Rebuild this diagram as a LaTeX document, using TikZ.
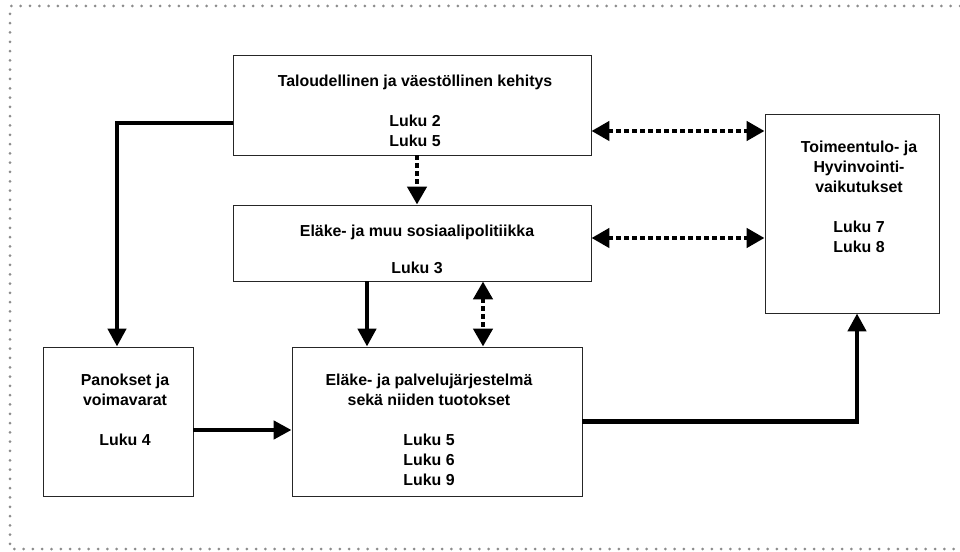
\documentclass[tikz,border=0pt]{standalone}
\usepackage{fontspec}
\setmainfont{Liberation Sans}
\usetikzlibrary{arrows.meta}
\begin{document}
\begin{tikzpicture}[x=1pt, y=1pt,
    box/.style={draw=black!85, line width=0.9pt, inner sep=0pt},
    txt/.style={align=center, font=\fontsize{15.9}{20}\selectfont\bfseries, inner sep=0pt},
    solidarrow/.style={line width=4.5pt, -{Triangle[length=18pt, width=18pt]}},
    dotarrow/.style={line width=4.5pt, dash pattern=on 5pt off 3pt, -{Triangle[length=18pt, width=19pt]}},
    dotboth/.style={line width=4.5pt, dash pattern=on 5pt off 3pt, {Triangle[length=18pt, width=19pt]}-{Triangle[length=18pt, width=19pt]}},
    border/.style={black!45, line width=3pt, line cap=round, dash pattern=on 0pt off 9.3pt}]
  \useasboundingbox (0,0) rectangle (960,551);
  % dotted frame
  \draw[border] (960,545) -- (10,545) -- (10,2) -- (960,2);
  % boxes
  \node[box, minimum width=358, minimum height=100] (tal) at (412,446) {};
  \node[box, minimum width=358, minimum height=76] (sos) at (412,308) {};
  \node[box, minimum width=174, minimum height=199] (toim) at (852,337.5) {};
  \node[box, minimum width=150, minimum height=149] (pan) at (118,129.5) {};
  \node[box, minimum width=290, minimum height=149] (jar) at (437,129.5) {};
  % texts
  \node[txt] (tal-txt) at (415,440) {Taloudellinen ja väestöllinen kehitys\\[20pt]Luku 2\\Luku 5};
  \node[txt] (sos-txt) at (417,301.5) {Eläke- ja muu sosiaalipolitiikka\\[17pt]Luku 3};
  \node[txt] (toim-txt) at (859,354) {Toimeentulo- ja\\Hyvinvointi-\\vaikutukset\\[20pt]Luku 7\\Luku 8};
  \node[txt] (pan-txt) at (125,141) {Panokset ja\\voimavarat\\[20pt]Luku 4};
  \node[txt] (jar-txt) at (429,121.5) {Eläke- ja palvelujärjestelmä\\sekä niiden tuotokset\\[20pt]Luku 5\\Luku 6\\Luku 9};
  % arrows
  \draw[solidarrow] ([yshift=-18pt]tal.west) -| ([xshift=-1pt]pan.north);
  \draw[dotarrow] ([xshift=5pt]tal.south) -- ([xshift=5pt]sos.north);
  \draw[dotboth] ([yshift=-26pt]tal.east) -- ([yshift=82.5pt]toim.west);
  \draw[dotboth] ([yshift=5pt]sos.east) -- ([yshift=-24.5pt]toim.west);
  \draw[solidarrow] ([xshift=-45pt]sos.south) -- ([xshift=-70pt]jar.north);
  \draw[dotboth] ([xshift=71pt]sos.south) -- ([xshift=46pt]jar.north);
  \draw[solidarrow] ([yshift=-8.5pt]pan.east) -- ([yshift=-8.5pt]jar.west);
  \draw[solidarrow] (jar.east) -| ([xshift=5pt]toim.south);
\end{tikzpicture}
\end{document}
